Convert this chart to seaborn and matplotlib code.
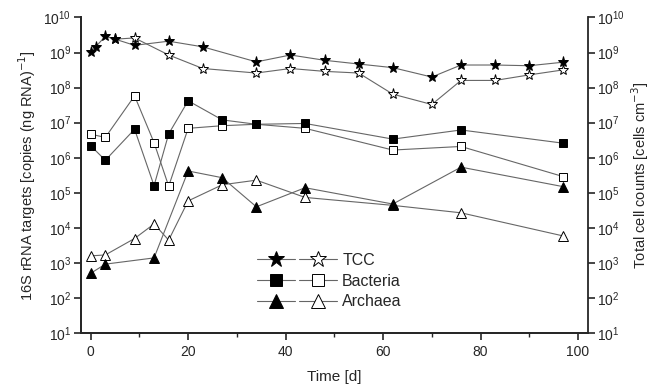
import matplotlib
matplotlib.use("Agg")
import matplotlib.pyplot as plt
import numpy as np
import pandas as pd
import seaborn as sns
from matplotlib.lines import Line2D
from matplotlib.legend_handler import HandlerTuple
from matplotlib.ticker import LogLocator, NullLocator, MultipleLocator

# values (log scale)
tcc_days = [0, 1, 3, 5, 9, 16, 23, 34, 41, 48, 55, 62, 70, 76, 83, 90, 97]
tcc_filled = [1.05e9, 1.45e9, 2.9e9, 2.4e9, 1.6e9, 2.1e9, 1.45e9, 5.4e8, 8.5e8, 6.0e8,
              4.7e8, 3.7e8, 2.0e8, 4.4e8, 4.4e8, 4.2e8, 5.3e8]
tcc_open_days = [5, 9, 16, 23, 34, 41, 48, 55, 62, 70, 76, 83, 90, 97]
tcc_open = [2.4e9, 2.6e9, 8.5e8, 3.5e8, 2.6e8, 3.5e8, 2.9e8, 2.6e8, 6.5e7, 3.3e7,
            1.6e8, 1.6e8, 2.3e8, 3.2e8]

bac_days = [0, 3, 9, 13, 16, 20, 27, 34, 44, 62, 76, 97]
bac_filled = [2.2e6, 8.5e5, 6.5e6, 1.6e5, 4.8e6, 4.2e7, 1.2e7, 9.0e6, 9.5e6, 3.4e6, 6.2e6, 2.6e6]
bac_open = [4.7e6, 3.8e6, 5.8e7, 2.7e6, 1.55e5, 6.9e6, 8.2e6, 9.0e6, 6.9e6, 1.66e6, 2.1e6, 2.9e5]

arc_filled_days = [0, 3, 13, 20, 27, 34, 44, 62, 76, 97]
arc_filled = [5.1e2, 9.3e2, 1.4e3, 4.2e5, 2.7e5, 4.0e4, 1.4e5, 4.8e4, 5.4e5, 1.5e5]
arc_open_days = [0, 3, 9, 13, 16, 20, 27, 34, 44, 62, 76, 97]
arc_open = [1.6e3, 1.7e3, 5.0e3, 1.3e4, 4.5e3, 5.9e4, 1.7e5, 2.3e5, 7.4e4, 4.4e4, 2.7e4, 5.9e3]

sns.set_theme(style="ticks")
plt.rcParams["font.family"] = ["Liberation Sans", "DejaVu Sans"]
plt.rcParams["axes.linewidth"] = 1.3

fig = plt.figure(figsize=(6.53, 3.87), dpi=100)
ax = fig.add_axes([0.124, 0.139, 0.776, 0.816])
ax2 = ax.twinx()

line_kw = dict(color="0.4", linewidth=0.8, markeredgecolor="black", markeredgewidth=0.7)


def draw(axis, x, y, marker, filled, ms):
    sns.lineplot(x=x, y=y, ax=axis, marker=marker, markersize=ms,
                 markerfacecolor="black" if filled else "white",
                 zorder=4 if filled else 3, **line_kw)


draw(ax, bac_days, bac_open, "s", False, 5.5)
draw(ax, bac_days, bac_filled, "s", True, 5.5)
draw(ax, arc_open_days, arc_open, "^", False, 6.5)
draw(ax, arc_filled_days, arc_filled, "^", True, 6.5)
draw(ax2, tcc_open_days, tcc_open, "*", False, 8)
draw(ax2, tcc_days, tcc_filled, "*", True, 8)

for a in (ax, ax2):
    a.set_yscale("log")
    a.set_ylim(10, 1e10)
    a.yaxis.set_major_locator(LogLocator(base=10, numticks=12))
    a.yaxis.set_minor_locator(NullLocator())
    a.tick_params(axis="y", labelsize=10, length=5, width=1.2, direction="out", pad=2)
ax.set_xlim(-2, 102)
ax.xaxis.set_major_locator(MultipleLocator(20))
ax.xaxis.set_minor_locator(MultipleLocator(10))
ax.tick_params(axis="x", which="major", labelsize=10, length=5, width=1.2)
ax.tick_params(axis="x", which="minor", length=3, width=1.0)

for a in (ax, ax2):
    a.spines["top"].set_visible(False)
ax.spines["right"].set_visible(False)
ax2.spines["right"].set_visible(True)

ax.set_xlabel("Time [d]", fontsize=11, labelpad=8)
ax.set_ylabel("16S rRNA targets [copies (ng RNA)$^{-1}$]", fontsize=10.5, labelpad=4)
ax2.set_ylabel("Total cell counts [cells cm$^{-3}$]", fontsize=10.5, labelpad=3)


def h(marker, filled, ms):
    return Line2D([], [], marker=marker, markersize=ms,
                  markerfacecolor="black" if filled else "white", **line_kw)


handles = [(h("*", True, 12), h("*", False, 12)),
           (h("s", True, 9), h("s", False, 9)),
           (h("^", True, 10), h("^", False, 10))]
ax.legend(handles, ["TCC", "Bacteria", "Archaea"],
          handler_map={tuple: HandlerTuple(ndivide=None, pad=0.25)},
          loc="center left", bbox_to_anchor=(0.32, 0.165), frameon=False,
          fontsize=11.5, handlelength=5.0, handletextpad=0.3, labelspacing=0.35)

fig.savefig("out.png", dpi=100)
